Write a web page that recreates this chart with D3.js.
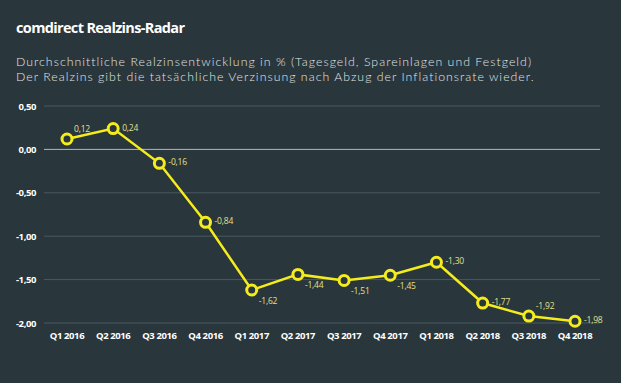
<!DOCTYPE html>
<meta charset="utf-8">
<script src="https://d3js.org/d3.v7.min.js"></script>
<style>
  body { margin: 0; background: #29363c; }
  svg { display: block; }
</style>
<div id="my_dataviz"></div>
<script>
  // data
  const quarters = ["Q1 2016", "Q2 2016", "Q3 2016", "Q4 2016", "Q1 2017", "Q2 2017",
    "Q3 2017", "Q4 2017", "Q1 2018", "Q2 2018", "Q3 2018", "Q4 2018"];
  const realzins = [0.12, 0.24, -0.16, -0.84, -1.62, -1.44, -1.51, -1.45, -1.30, -1.77, -1.92, -1.98];
  const yTicks = [0.5, 0, -0.5, -1, -1.5, -2];
  // label placement: r = right, ar = above right, br = below right
  const labelPos = ["ar", "r", "r", "r", "br", "br", "br", "br", "r", "r", "ar", "r"];

  const W = 621, H = 383;
  const svg = d3.select("#my_dataviz").append("svg")
    .attr("width", W).attr("height", H);

  svg.append("rect").attr("width", W).attr("height", H).attr("fill", "#29363c");

  // titles
  svg.append("text")
    .attr("x", 16).attr("y", 33)
    .attr("font-family", "Open Sans").attr("font-weight", "bold")
    .attr("font-size", 14.5).attr("letter-spacing", -0.65)
    .attr("fill", "#ffffff")
    .text("comdirect Realzins-Radar");

  const sub = ["Durchschnittliche Realzinsentwicklung in % (Tagesgeld, Spareinlagen und Festgeld)",
    "Der Realzins gibt die tatsächliche Verzinsung nach Abzug der Inflationsrate wieder."];
  svg.selectAll(".sub").data(sub).enter().append("text")
    .attr("x", 16).attr("y", (d, i) => 66 + i * 15)
    .attr("font-family", "Lato").attr("font-weight", 300)
    .attr("font-size", 12.3).attr("letter-spacing", 1.02)
    .attr("fill", "#e2e6e7")
    .text(d => d);

  const x = d3.scalePoint().domain(quarters).range([67, 575]);
  const y = d3.scaleLinear().domain([-2, 0.5]).range([323, 106]);

  // grid
  svg.append("g").selectAll("line").data(yTicks).enter().append("line")
    .attr("x1", 44).attr("x2", 600)
    .attr("y1", d => y(d)).attr("y2", d => y(d))
    .attr("stroke", d => d === 0 ? "#b0b8bb" : "#4b5a60")
    .attr("stroke-width", 1);

  // y axis labels
  const yFmt = d => d3.format(".2f")(d).replace(".", ",").replace("−", "-");
  svg.append("g").selectAll("text").data(yTicks).enter().append("text")
    .attr("x", 36).attr("y", d => y(d) + 3.5)
    .attr("text-anchor", "end")
    .attr("font-family", "Open Sans").attr("font-weight", "bold")
    .attr("font-size", 9.5).attr("letter-spacing", -0.4)
    .attr("fill", "#ffffff")
    .text(yFmt);

  // x axis labels
  svg.append("g").selectAll("text").data(quarters).enter().append("text")
    .attr("x", d => x(d)).attr("y", 339)
    .attr("text-anchor", "middle")
    .attr("font-family", "Open Sans").attr("font-weight", "bold")
    .attr("font-size", 9.5).attr("letter-spacing", -0.4)
    .attr("fill", "#ffffff")
    .text(d => d);

  const data = quarters.map((q, i) => ({ q: q, v: realzins[i], pos: labelPos[i] }));

  // line
  svg.append("path").datum(data)
    .attr("fill", "none")
    .attr("stroke", "#f4ec1c")
    .attr("stroke-width", 2.5)
    .attr("d", d3.line().x(d => x(d.q)).y(d => y(d.v)));

  // markers
  svg.append("g").selectAll("circle").data(data).enter().append("circle")
    .attr("cx", d => x(d.q)).attr("cy", d => y(d.v))
    .attr("r", 5)
    .attr("fill", "#29363c")
    .attr("stroke", "#f4ec1c")
    .attr("stroke-width", 3);

  // value labels
  const off = { r: [9, 2], ar: [7, -7], br: [7, 14] };
  svg.append("g").selectAll("text").data(data).enter().append("text")
    .attr("x", d => x(d.q) + off[d.pos][0])
    .attr("y", d => y(d.v) + off[d.pos][1])
    .attr("font-family", "Open Sans")
    .attr("font-size", 8.5).attr("letter-spacing", -0.2)
    .attr("fill", "#e3e08a")
    .text(d => yFmt(d.v));
</script>
